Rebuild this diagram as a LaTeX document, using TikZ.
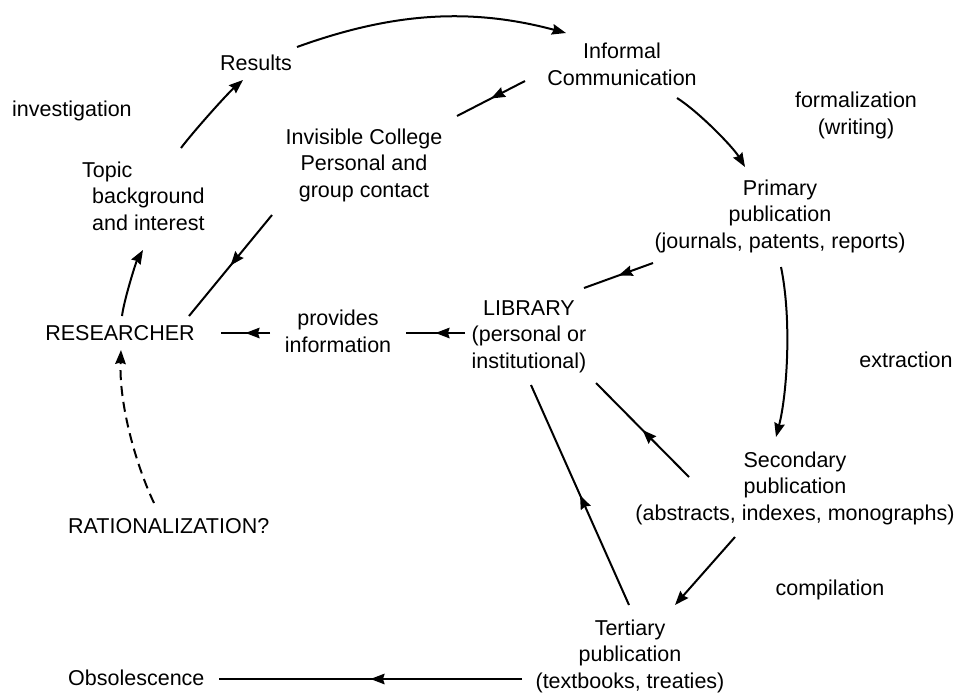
\documentclass[tikz,border=0pt]{standalone}
\usepackage{fontspec}
\setmainfont{Liberation Sans}
\usetikzlibrary{arrows.meta,decorations.markings}
\begin{document}
\begin{tikzpicture}[x=1pt,y=-1pt,
  lbl/.style={inner sep=0pt, align=center, font=\fontsize{21.5}{26.5}\selectfont},
  conn/.style={line width=2pt},
  endarrow/.style={-{Stealth[length=14pt,width=10.5pt,inset=1.5pt]}},
  midarrow/.style={decoration={markings, mark=at position 0.5 with {\arrow{Stealth[length=14pt,width=10.5pt,inset=1.5pt]}}}, postaction={decorate}},
]
\path[use as bounding box, fill=white] (0,0) rectangle (959,694);

% nodes (base = baseline of the last line)
\node[lbl, anchor=base] (res) at (120,340) {RESEARCHER};
\node[lbl, anchor=base] (results) at (256,70) {Results};
\node[lbl, anchor=base west] (inv) at (12,116) {investigation};
\node[lbl, anchor=base west, align=left] (topic) at (92,230) {\hspace*{-10pt}Topic\\background\\and interest};
\node[lbl, anchor=base] (ic) at (364,197) {Invisible College\\Personal and\\group contact};
\node[lbl, anchor=base] (infc) at (622,85) {Informal\\Communication};
\node[lbl, anchor=base] (form) at (856,134) {formalization\\(writing)};
\node[lbl, anchor=base] (prim) at (780,248) {Primary\\publication\\(journals, patents, reports)};
\node[lbl, anchor=base] (lib) at (529,368) {LIBRARY\\(personal or\\institutional)};
\node[lbl, anchor=base] (prov) at (338,352) {provides\\information};
\node[lbl, anchor=base] (extr) at (906,367) {extraction};
\node[lbl, anchor=base] (sec) at (795,520) {Secondary\\publication\\(abstracts, indexes, monographs)};
\node[lbl, anchor=base] (comp) at (830,595) {compilation};
\node[lbl, anchor=base] (tert) at (630,688) {Tertiary\\publication\\(textbooks, treaties)};
\node[lbl, anchor=base west] (rat) at (68,533) {RATIONALIZATION?};
\node[lbl, anchor=base west] (obs) at (68,685) {Obsolescence};

% connectors
\draw[conn,endarrow] ([shift={(41,-23)}]results.base) .. controls (391,13) and (469,7) .. ([shift={(-56,-52)}]infc.base);
\draw[conn,endarrow] ([shift={(89,-82)}]topic.base west) .. controls (193,132) and (227,94) .. ([shift={(-13,10)}]results.base);
\draw[conn,endarrow] ([shift={(2,-24)}]res.base) .. controls (124,300) and (136,262) .. ([shift={(51,20)}]topic.base west);
\draw[conn,midarrow] ([shift={(-92,18)}]ic.base) -- ([shift={(69,-24)}]res.base);
\draw[conn,midarrow] ([shift={(-97,-4)}]infc.base) -- ([shift={(93,-81)}]ic.base);
\draw[conn,endarrow] ([shift={(55,13)}]infc.base) .. controls (699,112) and (733,147) .. ([shift={(-35,-81)}]prim.base);
\draw[conn,midarrow] ([shift={(-127,15)}]prim.base) -- ([shift={(55,-80)}]lib.base);
\draw[conn,endarrow] ([shift={(1,19)}]prim.base) .. controls (792,320) and (787,395) .. ([shift={(-19,-83)}]sec.base);
\draw[conn,midarrow] ([shift={(-106,-43)}]sec.base) -- ([shift={(67,15)}]lib.base);
\draw[conn,midarrow] ([shift={(-1,-83)}]tert.base) -- ([shift={(2,17)}]lib.base);
\draw[conn,endarrow] ([shift={(-60,17)}]sec.base) -- ([shift={(45,-83)}]tert.base);
\draw[conn,midarrow] ([shift={(-64,-35)}]lib.base) -- ([shift={(68,-19)}]prov.base);
\draw[conn,midarrow] ([shift={(-68,-19)}]prov.base) -- ([shift={(101,-7)}]res.base);
\draw[conn,endarrow,dash pattern=on 10pt off 6pt] ([shift={(86,-30)}]rat.base west) .. controls (136,465) and (119,405) .. ([shift={(1,10)}]res.base);
\draw[conn,midarrow] ([shift={(-108,-9)}]tert.base) -- ([shift={(151,-6)}]obs.base west);
\end{tikzpicture}
\end{document}
